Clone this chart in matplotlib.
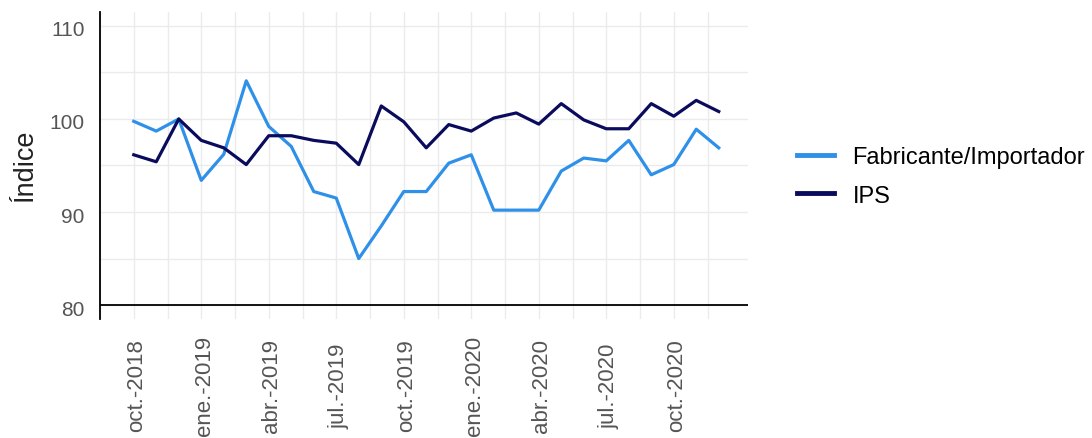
import matplotlib
matplotlib.use("Agg")
import matplotlib.pyplot as plt
import matplotlib.transforms as mtransforms
import numpy as np

plt.rcParams['font.family'] = ['Liberation Sans', 'DejaVu Sans']

months = ["oct.-2018", "nov.-2018", "dic.-2018", "ene.-2019", "feb.-2019", "mar.-2019",
          "abr.-2019", "may.-2019", "jun.-2019", "jul.-2019", "ago.-2019", "sep.-2019",
          "oct.-2019", "nov.-2019", "dic.-2019", "ene.-2020", "feb.-2020", "mar.-2020",
          "abr.-2020", "may.-2020", "jun.-2020", "jul.-2020", "ago.-2020", "sep.-2020",
          "oct.-2020", "nov.-2020", "dic.-2020"]

fabricante = [99.75, 98.7, 100.0, 93.4, 96.2, 104.1, 99.2, 97.05, 92.2, 91.5, 85.0, 88.5,
              92.2, 92.2, 95.25, 96.15, 90.2, 90.2, 90.2, 94.4, 95.8, 95.5, 97.7, 94.0,
              95.1, 98.9, 96.9]
ips = [96.15, 95.4, 100.0, 97.7, 96.9, 95.1, 98.2, 98.2, 97.7, 97.4, 95.1, 101.4,
       99.7, 96.9, 99.4, 98.7, 100.1, 100.65, 99.45, 101.65, 99.9, 98.95, 98.95, 101.65,
       100.3, 102.0, 100.8]

series_names = ["Fabricante/Importador", "IPS"]
series_colors = ["#2e90e8", "#0b0b5e"]

tick_idx = list(range(0, 27, 3))
tick_labels = [months[i] for i in tick_idx]
y_ticks = [80, 90, 100, 110]

fig = plt.figure(figsize=(10.92, 4.39), dpi=100)
ax = fig.add_axes([100/1092, 1-320/439, (748-100)/1092, (320-13)/439])

x = np.arange(len(months))
ax.plot(x, fabricante, color=series_colors[0], lw=2.3, label=series_names[0], zorder=3)
ax.plot(x, ips, color=series_colors[1], lw=2.3, label=series_names[1], zorder=3)
ax.axhline(80, color='black', lw=1.3, zorder=2.5)

n = len(months) - 1
ax.set_xlim(-0.05*n, n + 0.05*n)
ax.set_ylim(78.5, 111.5)

ax.set_xticks(tick_idx)
ax.set_xticklabels(tick_labels, rotation=90, fontsize=16, color='#555555', va='center')
ax.set_xticks([i + 1.5 for i in range(-3, 27, 3)], minor=True)
ax.set_yticks(y_ticks)
ax.set_yticklabels([str(v) for v in y_ticks], fontsize=15, color='#555555')
ax.set_yticks([85, 95, 105], minor=True)

ax.tick_params(axis='both', which='both', length=0)
ax.tick_params(axis='x', pad=47.5)
ax.tick_params(axis='y', pad=11)

dx = mtransforms.ScaledTranslation(3/100, 0, fig.dpi_scale_trans)
for lab in ax.get_xticklabels():
    lab.set_transform(lab.get_transform() + dx)
dy = mtransforms.ScaledTranslation(0, -2/100, fig.dpi_scale_trans)
for lab in ax.get_yticklabels():
    lab.set_transform(lab.get_transform() + dy)

ax.grid(True, which='both', color='#ebebeb', lw=1.0, zorder=0)
for s in ['top', 'right', 'bottom']:
    ax.spines[s].set_visible(False)
ax.spines['left'].set_color('black')
ax.spines['left'].set_linewidth(1.3)

ax.set_ylabel("Índice", fontsize=19.5, color='#222222')
ax.yaxis.label.set_ha('center')
ax.yaxis.label.set_va('center')
ax.yaxis.set_label_coords((25 - 100)/648, (320 - 166)/307)

leg = fig.legend(loc='center left', bbox_to_anchor=(797/1092, 1-177.5/439),
                 frameon=False, fontsize=17, handlelength=1.55, handletextpad=0.8,
                 labelspacing=0.7, borderpad=0, borderaxespad=0)
for h in leg.get_lines():
    h.set_linewidth(3.5)

fig.savefig("out.png", dpi=100)
